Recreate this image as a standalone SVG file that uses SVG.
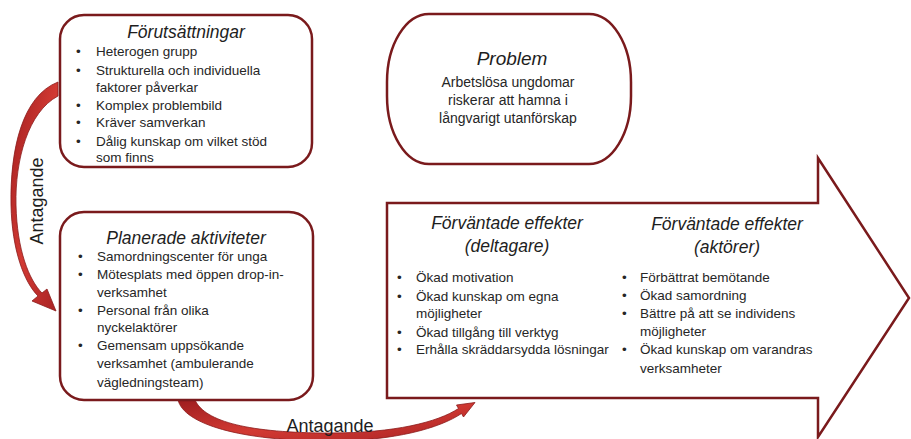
<svg xmlns="http://www.w3.org/2000/svg" width="911" height="439" viewBox="0 0 911 439">
<defs>
<style>
.box{fill:#fff;stroke:#7a1a1c;stroke-width:2.5}
.t{font-family:"Liberation Sans",Arial,sans-serif;font-size:13.5px;fill:#262626}
.h{font-family:"Liberation Sans",Arial,sans-serif;font-size:17.5px;font-style:italic;fill:#1e1e1e}
.c{text-anchor:middle}
.lbl{font-family:"Liberation Sans",Arial,sans-serif;font-size:18px;fill:#1e1e1e;text-anchor:middle}
.arr{fill:url(#rg);stroke:#8a1a1a;stroke-width:0.8}
</style>
<linearGradient id="rg" x1="0" y1="0" x2="1" y2="1">
<stop offset="0" stop-color="#9e1d1f"/>
<stop offset="0.5" stop-color="#d23a33"/>
<stop offset="1" stop-color="#a82224"/>
</linearGradient>
</defs>

<g id="connectors">
<path class="arr" d="M 58 82 C 22 96 10 150 11 205 C 12 250 24 282 38 296 L 32 301 L 56 311 L 47 289 L 42 293 C 29 280 17 250 16 205 C 15 160 28 112 58 96 Z"/>
<path class="arr" d="M 178 400 C 184 424 240 441 330 441 C 395 441 440 428 461.5 413.5 L 463.5 417 L 475 402.5 L 456.5 405 L 458.5 408.5 C 438 422 395 433 330 433 C 250 433 205 422 195 400 Z"/>
<text class="lbl" transform="translate(43,201) rotate(-90)">Antagande</text>
<text class="lbl" x="330" y="432">Antagande</text>
</g>

<g id="forutsattningar">
<rect class="box" x="60" y="15" width="252" height="152" rx="24" ry="24"/>
<text class="h c" x="186" y="38">Förutsättningar</text>
<g class="t">
<text x="76" y="56">•</text><text x="96" y="56">Heterogen grupp</text>
<text x="76" y="75">•</text><text x="96" y="75">Strukturella och individuella</text>
<text x="96" y="92">faktorer påverkar</text>
<text x="76" y="110">•</text><text x="96" y="110">Komplex problembild</text>
<text x="76" y="127">•</text><text x="96" y="127">Kräver samverkan</text>
<text x="76" y="146">•</text><text x="96" y="146">Dålig kunskap om vilket stöd</text>
<text x="96" y="162">som finns</text>
</g>
</g>

<g id="planerade">
<rect class="box" x="60" y="212" width="253" height="188" rx="24" ry="24"/>
<text class="h c" x="186" y="244">Planerade aktiviteter</text>
<g class="t">
<text x="78" y="261">•</text><text x="97" y="261">Samordningscenter för unga</text>
<text x="78" y="279">•</text><text x="97" y="279">Mötesplats med öppen drop-in-</text>
<text x="97" y="297">verksamhet</text>
<text x="78" y="315">•</text><text x="97" y="315">Personal från olika</text>
<text x="97" y="332">nyckelaktörer</text>
<text x="78" y="350">•</text><text x="97" y="350">Gemensam uppsökande</text>
<text x="97" y="368">verksamhet (ambulerande</text>
<text x="97" y="387">vägledningsteam)</text>
</g>
</g>

<g id="problem">
<rect class="box" x="387" y="14" width="244" height="150" rx="42" ry="68"/>
<text class="h c" x="512" y="65" style="font-size:19px">Problem</text>
<text class="t c" x="508" y="87" style="font-size:14px">Arbetslösa ungdomar</text>
<text class="t c" x="508" y="105" style="font-size:14px">riskerar att hamna i</text>
<text class="t c" x="508" y="123" style="font-size:14px">långvarigt utanförskap</text>
</g>

<g id="effekter">
<path class="box" d="M 387 203 L 818 203 L 818 158 L 909 298 L 818 437 L 818 398 L 387 398 Z"/>
<text class="h c" x="507" y="229">Förväntade effekter</text>
<text class="h c" x="507" y="252">(deltagare)</text>
<g class="t">
<text x="397" y="282">•</text><text x="416" y="282">Ökad motivation</text>
<text x="397" y="301">•</text><text x="416" y="301">Ökad kunskap om egna</text>
<text x="416" y="318">möjligheter</text>
<text x="397" y="337">•</text><text x="416" y="337">Ökad tillgång till verktyg</text>
<text x="397" y="354">•</text><text x="416" y="354">Erhålla skräddarsydda lösningar</text>
</g>
<text class="h c" x="727" y="230">Förväntade effekter</text>
<text class="h c" x="727" y="253">(aktörer)</text>
<g class="t">
<text x="622" y="282">•</text><text x="640" y="282">Förbättrat bemötande</text>
<text x="622" y="300">•</text><text x="640" y="300">Ökad samordning</text>
<text x="622" y="318">•</text><text x="640" y="318">Bättre på att se individens</text>
<text x="640" y="336">möjligheter</text>
<text x="622" y="354">•</text><text x="640" y="354">Ökad kunskap om varandras</text>
<text x="640" y="373">verksamheter</text>
</g>
</g>
</svg>
